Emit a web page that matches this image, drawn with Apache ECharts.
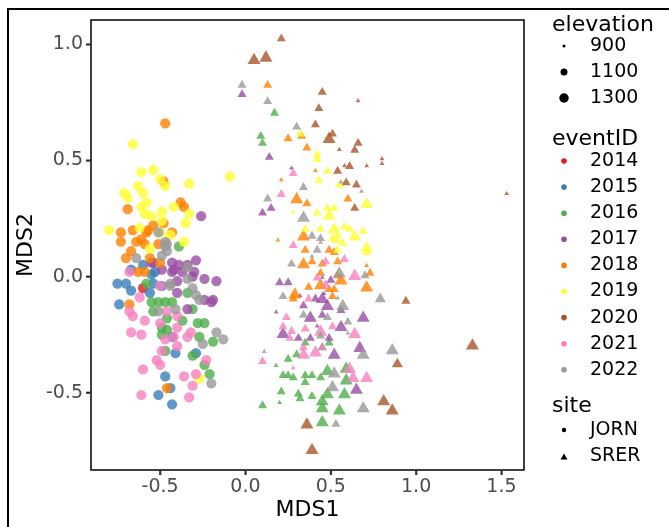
<!DOCTYPE html>
<html>
<head>
<meta charset="utf-8">
<script src="https://cdn.jsdelivr.net/npm/echarts@6/dist/echarts.min.js"></script>
<style>
  html, body { margin: 0; padding: 0; background: #fff; }
  #main { width: 669px; height: 527px; }
</style>
</head>
<body>
<div id="main"></div>
<script>
// NMDS scores, eventID colour, elevation size, site shape
const years = [2014, 2015, 2016, 2017, 2018, 2019, 2020, 2021, 2022];
const yearColors = ['#E41A1C', '#377EB8', '#4DAF4A', '#984EA3', '#FF7F00', '#FFFF33', '#A65628', '#F781BF', '#999999'];
const elevationBreaks = [900, 1100, 1300];
const sites = ['JORN', 'SRER'];
const xTicks = [-0.5, 0, 0.5, 1, 1.5];
const yTicks = [-0.5, 0, 0.5, 1];

const jornElevation = 1380;
// [MDS1, MDS2, eventID]
const jornPoints = [
  [-0.60, -0.05, 2014],
  [-0.60, 0.05, 2015], [-0.67, 0.03, 2015], [-0.53, 0.02, 2015], [-0.55, 0.01, 2015], [-0.75, -0.03, 2015],
  [-0.70, -0.03, 2015], [-0.67, -0.06, 2015], [-0.56, -0.07, 2015], [-0.54, -0.03, 2015], [-0.49, -0.04, 2015],
  [-0.74, -0.12, 2015], [-0.43, -0.26, 2015], [-0.41, -0.33, 2015], [-0.29, -0.33, 2015], [-0.47, -0.43, 2015],
  [-0.44, -0.48, 2015], [-0.51, -0.51, 2015], [-0.43, -0.55, 2015],
  [-0.39, 0.13, 2016], [-0.58, -0.03, 2016], [-0.34, -0.07, 2016], [-0.55, -0.11, 2016], [-0.51, -0.11, 2016],
  [-0.47, -0.11, 2016], [-0.54, -0.15, 2016], [-0.43, -0.11, 2016], [-0.31, -0.14, 2016], [-0.46, -0.18, 2016],
  [-0.37, -0.19, 2016], [-0.28, -0.20, 2016], [-0.24, -0.20, 2016], [-0.49, -0.22, 2016], [-0.46, -0.23, 2016],
  [-0.49, -0.25, 2016], [-0.27, -0.26, 2016], [-0.19, -0.28, 2016], [-0.47, -0.32, 2016], [-0.31, -0.34, 2016],
  [-0.24, -0.38, 2016], [-0.21, -0.42, 2016],
  [-0.26, 0.26, 2017], [-0.55, 0.06, 2017], [-0.49, 0.03, 2017], [-0.54, 0.06, 2017], [-0.43, 0.06, 2017],
  [-0.39, 0.05, 2017], [-0.34, 0.05, 2017], [-0.29, 0.07, 2017], [-0.43, 0.02, 2017], [-0.37, 0.02, 2017],
  [-0.31, 0.00, 2017], [-0.40, -0.02, 2017], [-0.24, -0.01, 2017], [-0.17, -0.02, 2017], [-0.40, -0.07, 2017],
  [-0.24, -0.10, 2017], [-0.19, -0.10, 2017], [-0.20, -0.11, 2017], [-0.34, -0.14, 2017], [-0.42, 0.03, 2017],
  [-0.30, 0.02, 2017],
  [-0.47, 0.66, 2018], [-0.48, 0.41, 2018], [-0.69, 0.29, 2018], [-0.38, 0.32, 2018], [-0.36, 0.30, 2018],
  [-0.73, 0.19, 2018], [-0.66, 0.20, 2018], [-0.58, 0.19, 2018], [-0.54, 0.22, 2018], [-0.57, 0.20, 2018],
  [-0.48, 0.23, 2018], [-0.43, 0.19, 2018], [-0.73, 0.15, 2018], [-0.64, 0.15, 2018], [-0.61, 0.16, 2018],
  [-0.59, 0.14, 2018], [-0.70, 0.08, 2018], [-0.67, 0.11, 2018], [-0.56, 0.08, 2018], [-0.50, 0.06, 2018],
  [-0.63, 0.02, 2018], [-0.59, 0.02, 2018], [-0.68, -0.12, 2018], [-0.46, -0.48, 2018], [-0.51, 0.14, 2018],
  [-0.66, 0.57, 2019], [-0.61, 0.45, 2019], [-0.54, 0.46, 2019], [-0.50, 0.42, 2019], [-0.47, 0.39, 2019],
  [-0.33, 0.40, 2019], [-0.09, 0.43, 2019], [-0.71, 0.36, 2019], [-0.69, 0.34, 2019], [-0.63, 0.39, 2019],
  [-0.60, 0.36, 2019], [-0.58, 0.32, 2019], [-0.61, 0.30, 2019], [-0.59, 0.27, 2019], [-0.55, 0.26, 2019],
  [-0.49, 0.28, 2019], [-0.42, 0.30, 2019], [-0.33, 0.27, 2019], [-0.35, 0.23, 2019], [-0.80, 0.20, 2019],
  [-0.62, 0.21, 2019], [-0.50, 0.19, 2019], [-0.44, 0.18, 2019], [-0.49, 0.24, 2019], [-0.56, 0.12, 2019],
  [-0.36, 0.15, 2019], [-0.27, -0.44, 2019],
  [-0.68, 0.02, 2021], [-0.50, -0.04, 2021], [-0.62, -0.09, 2021], [-0.46, -0.15, 2021], [-0.68, -0.15, 2021],
  [-0.66, -0.17, 2021], [-0.59, -0.19, 2021], [-0.50, -0.20, 2021], [-0.40, -0.17, 2021], [-0.40, -0.22, 2021],
  [-0.67, -0.24, 2021], [-0.61, -0.25, 2021], [-0.32, -0.24, 2021], [-0.34, -0.26, 2021], [-0.47, -0.27, 2021],
  [-0.42, -0.26, 2021], [-0.40, -0.30, 2021], [-0.49, -0.32, 2021], [-0.52, -0.36, 2021], [-0.50, -0.38, 2021],
  [-0.23, -0.36, 2021], [-0.60, -0.40, 2021], [-0.29, -0.42, 2021], [-0.36, -0.43, 2021], [-0.31, -0.47, 2021],
  [-0.61, -0.51, 2021], [-0.33, -0.52, 2021],
  [-0.51, 0.19, 2022], [-0.46, 0.14, 2022], [-0.47, 0.15, 2022], [-0.46, 0.11, 2022], [-0.64, 0.08, 2022],
  [-0.49, 0.09, 2022], [-0.47, 0.13, 2022], [-0.34, 0.04, 2022], [-0.44, -0.03, 2022], [-0.34, -0.01, 2022],
  [-0.31, -0.05, 2022], [-0.29, -0.08, 2022], [-0.27, -0.10, 2022], [-0.51, -0.15, 2022], [-0.41, -0.14, 2022],
  [-0.17, -0.24, 2022], [-0.13, -0.27, 2022], [-0.25, -0.29, 2022], [-0.20, -0.46, 2022], [-0.44, -0.04, 2022]
];

// [MDS1, MDS2, elevation, eventID]
const srerPoints = [
  [0.17, 0.71, 1080, 2016], [0.09, 0.61, 1080, 2016], [0.10, 0.58, 1080, 2016], [0.35, -0.28, 1080, 2016],
  [0.49, -0.28, 1080, 2016], [0.45, -0.30, 1080, 2016], [0.30, -0.33, 1080, 2016], [0.25, -0.35, 1080, 2016],
  [0.18, -0.38, 920, 2016], [0.22, -0.42, 1080, 2016], [0.25, -0.42, 1080, 2016], [0.28, -0.43, 1080, 2016],
  [0.35, -0.42, 1080, 2016], [0.35, -0.45, 1080, 2016], [0.39, -0.42, 1080, 2016], [0.44, -0.43, 1080, 2016],
  [0.48, -0.40, 1320, 2016], [0.59, -0.39, 1320, 2016], [0.59, -0.44, 1320, 2016], [0.58, -0.50, 1320, 2016],
  [0.48, -0.50, 1320, 2016], [0.21, -0.49, 1080, 2016], [0.31, -0.50, 1080, 2016], [0.32, -0.52, 1080, 2016],
  [0.39, -0.51, 1080, 2016], [0.45, -0.53, 1320, 2016], [0.45, -0.56, 1320, 2016], [0.55, -0.57, 1320, 2016],
  [0.20, -0.54, 920, 2016], [0.10, -0.55, 1080, 2016], [0.45, -0.62, 1320, 2016],
  [-0.02, 0.79, 1080, 2017], [0.14, 0.52, 1080, 2017], [0.27, 0.47, 920, 2017], [0.10, 0.28, 1080, 2017],
  [0.15, 0.30, 1080, 2017], [0.45, 0.00, 920, 2017], [0.20, -0.02, 1080, 2017], [0.25, -0.02, 1080, 2017],
  [0.50, -0.01, 1080, 2017], [0.46, -0.07, 920, 2017], [0.32, -0.08, 920, 2017], [0.41, -0.09, 1080, 2017],
  [0.45, -0.09, 1320, 2017], [0.34, -0.12, 1080, 2017], [0.48, -0.12, 1320, 2017], [0.56, -0.14, 1080, 2017],
  [0.18, -0.15, 920, 2017], [0.38, -0.17, 1320, 2017], [0.45, -0.16, 1080, 2017], [0.69, -0.17, 1320, 2017],
  [0.42, -0.21, 920, 2017], [0.56, -0.21, 1320, 2017], [0.22, -0.24, 1320, 2017], [0.31, -0.26, 1080, 2017],
  [0.38, -0.26, 1080, 2017], [0.49, -0.26, 1080, 2017], [0.52, -0.33, 1320, 2017], [0.67, -0.30, 1320, 2017],
  [0.65, -0.48, 1320, 2017],
  [0.13, 0.83, 1080, 2018], [0.25, 0.60, 1080, 2018], [0.33, 0.61, 1080, 2018], [0.36, 0.56, 1080, 2018],
  [0.41, 0.46, 920, 2018], [0.21, 0.42, 920, 2018], [0.30, 0.34, 1320, 2018], [0.36, 0.32, 1080, 2018],
  [0.60, 0.34, 1080, 2018], [0.34, 0.18, 1320, 2018], [0.19, 0.16, 920, 2018], [0.35, 0.12, 1080, 2018],
  [0.49, 0.12, 1080, 2018], [0.52, 0.11, 1080, 2018], [0.34, 0.06, 1320, 2018], [0.39, 0.07, 1080, 2018],
  [0.45, 0.06, 1080, 2018], [0.54, 0.07, 1080, 2018], [0.71, 0.05, 920, 2018], [0.73, 0.02, 1080, 2018],
  [0.56, -0.01, 1320, 2018], [0.54, 0.01, 1080, 2018], [0.44, 0.02, 1080, 2018], [0.37, -0.04, 1080, 2018],
  [0.44, -0.03, 1320, 2018], [0.71, -0.04, 1320, 2018], [0.49, -0.05, 1080, 2018], [0.52, -0.05, 1080, 2018],
  [0.51, -0.08, 1080, 2018], [0.29, -0.07, 1320, 2018], [0.28, -0.09, 1080, 2018],
  [0.32, 0.62, 1080, 2019], [0.42, 0.53, 1080, 2019], [0.42, 0.51, 1080, 2019], [0.48, 0.46, 1080, 2019],
  [0.43, 0.42, 1080, 2019], [0.55, 0.40, 1080, 2019], [0.71, 0.32, 1320, 2019], [0.28, 0.28, 920, 2019],
  [0.42, 0.28, 1080, 2019], [0.48, 0.30, 1080, 2019], [0.52, 0.30, 1080, 2019], [0.49, 0.27, 1320, 2019],
  [0.35, 0.21, 1080, 2019], [0.44, 0.21, 1080, 2019], [0.52, 0.21, 1320, 2019], [0.58, 0.22, 1080, 2019],
  [0.61, 0.21, 1080, 2019], [0.64, 0.18, 1320, 2019], [0.69, 0.20, 1080, 2019], [0.51, 0.17, 1080, 2019],
  [0.54, 0.18, 1080, 2019], [0.53, 0.16, 1080, 2019], [0.57, 0.15, 1080, 2019], [0.71, 0.13, 1320, 2019],
  [0.71, 0.11, 1080, 2019], [0.54, 0.12, 1080, 2019],
  [0.21, 1.03, 1080, 2020], [0.05, 0.94, 1320, 2020], [0.12, 0.95, 1320, 2020], [0.45, 0.80, 1080, 2020],
  [0.66, 0.76, 920, 2020], [0.43, 0.73, 1080, 2020], [0.41, 0.66, 1080, 2020], [0.49, 0.60, 1320, 2020],
  [0.51, 0.62, 1080, 2020], [0.55, 0.55, 920, 2020], [0.64, 0.55, 1080, 2020], [0.66, 0.58, 1080, 2020],
  [0.80, 0.51, 920, 2020], [0.80, 0.49, 920, 2020], [0.54, 0.46, 1080, 2020], [0.58, 0.48, 920, 2020],
  [0.61, 0.48, 1080, 2020], [0.71, 0.48, 920, 2020], [0.59, 0.41, 1080, 2020], [0.65, 0.40, 1080, 2020],
  [0.64, 0.30, 1080, 2020], [1.53, 0.36, 920, 2020], [0.94, -0.10, 1080, 2020], [1.33, -0.29, 1320, 2020],
  [0.89, -0.37, 1200, 2020], [0.81, -0.53, 1320, 2020], [0.86, -0.57, 1320, 2020], [0.36, -0.63, 1320, 2020],
  [0.39, -0.74, 1320, 2020],
  [0.28, 0.45, 1080, 2021], [0.21, 0.36, 1080, 2021], [0.28, 0.14, 1080, 2021], [0.47, 0.07, 1080, 2021],
  [0.58, 0.08, 1080, 2021], [0.64, 0.01, 1320, 2021], [0.42, 0.00, 1080, 2021], [0.47, -0.03, 1080, 2021],
  [0.37, -0.09, 1080, 2021], [0.24, -0.17, 1080, 2021], [0.22, -0.21, 1080, 2021], [0.35, -0.22, 1080, 2021],
  [0.51, -0.21, 1080, 2021], [0.27, -0.23, 1080, 2021], [0.44, -0.23, 1320, 2021], [0.64, -0.24, 1320, 2021],
  [0.26, -0.26, 1080, 2021], [0.10, -0.36, 1080, 2021], [0.28, -0.39, 920, 2021], [0.34, -0.33, 1320, 2021],
  [0.41, -0.32, 1320, 2021], [0.45, -0.30, 1080, 2021], [0.34, -0.30, 1080, 2021], [0.61, -0.39, 1320, 2021],
  [0.63, -0.43, 1320, 2021], [0.71, -0.43, 1320, 2021],
  [-0.02, 0.83, 1080, 2022], [0.13, 0.76, 1080, 2022], [0.30, 0.65, 1080, 2022], [0.34, 0.39, 1080, 2022],
  [0.56, 0.41, 920, 2022], [0.68, 0.37, 920, 2022], [0.13, 0.34, 1080, 2022], [0.34, 0.26, 1320, 2022],
  [0.39, 0.18, 1080, 2022], [0.44, 0.17, 1080, 2022], [0.44, 0.15, 920, 2022], [0.42, 0.12, 1080, 2022],
  [0.39, 0.09, 920, 2022], [0.27, 0.06, 1080, 2022], [0.55, 0.02, 1320, 2022], [0.70, 0.01, 1080, 2022],
  [0.22, -0.08, 1080, 2022], [0.54, -0.09, 920, 2022], [0.79, -0.09, 1200, 2022], [0.57, -0.12, 1320, 2022],
  [0.34, -0.16, 1080, 2022], [0.48, -0.17, 1080, 2022], [0.60, -0.19, 1080, 2022], [0.60, -0.24, 920, 2022],
  [0.44, -0.25, 1080, 2022], [0.11, -0.32, 920, 2022], [0.69, -0.33, 1320, 2022], [0.86, -0.31, 1320, 2022],
  [0.52, -0.41, 1320, 2022], [0.51, -0.47, 1320, 2022], [0.69, -0.56, 1320, 2022], [0.53, -0.63, 1080, 2022]
];

const FONT = '"DejaVu Sans", sans-serif';
const xMin = -0.905, xMax = 1.632, yMin = -0.833, yMax = 1.105;

// point size: area grows linearly with elevation
function diam(elev) {
  return Math.sqrt(9 + (elev - 900) * 0.2);
}
function colorOf(year) {
  return yearColors[years.indexOf(year)];
}

let chart = echarts.init(document.getElementById('main'));

let jornData = jornPoints.map(p => ({
  value: [p[0], p[1], jornElevation, p[2]],
  itemStyle: { color: colorOf(p[2]) }
}));
let srerData = srerPoints.map(p => ({
  value: p,
  itemStyle: { color: colorOf(p[3]) }
}));

// legend drawn by hand (ggplot style)
let legendX = 552, keyX = 564, labelX = 590;
let graphics = [];
function title(text, y) {
  graphics.push({ type: 'text', style: { text: text, x: legendX, y: y, fill: '#000', fontSize: 22, fontFamily: FONT, verticalAlign: 'middle' } });
}
function label(text, y) {
  graphics.push({ type: 'text', style: { text: text, x: labelX, y: y, fill: '#000', fontSize: 19, fontFamily: FONT, verticalAlign: 'middle' } });
}
title('elevation', 25);
elevationBreaks.forEach((e, i) => {
  let y = 46 + i * 26;
  graphics.push({ type: 'circle', shape: { cx: keyX, cy: y, r: diam(e) / 2 }, style: { fill: '#000' } });
  label(String(e), y);
});
title('eventID', 139);
years.forEach((yr, i) => {
  let y = 161 + i * 26.1;
  graphics.push({ type: 'circle', shape: { cx: keyX, cy: y, r: 2.8 }, style: { fill: yearColors[i] } });
  label(String(yr), y);
});
title('site', 406);
sites.forEach((s, i) => {
  let y = 430 + i * 26.5;
  if (s === 'JORN') {
    graphics.push({ type: 'circle', shape: { cx: keyX, cy: y, r: 2.2 }, style: { fill: '#000' } });
  } else {
    graphics.push({ type: 'polygon', shape: { points: [[keyX, y - 3], [keyX + 3.5, y + 3], [keyX - 3.5, y + 3]] }, style: { fill: '#000' } });
  }
  label(s, y);
});
// plot background border
graphics.push({ type: 'rect', shape: { x: 8, y: 9, width: 700, height: 600 }, style: { fill: 'none', stroke: '#000', lineWidth: 2 }, z: -1 });

let option = {
  animation: false,
  backgroundColor: '#fff',
  grid: {
    left: 91, top: 20, width: 433, height: 450,
    show: true, borderColor: '#000', borderWidth: 1.5, backgroundColor: 'transparent'
  },
  xAxis: {
    type: 'value',
    position: 'bottom',
    min: xMin, max: xMax,
    name: 'MDS1',
    nameLocation: 'middle',
    nameGap: 29,
    nameMoveOverlap: false,
    nameTextStyle: { color: '#000', fontSize: 22, fontFamily: FONT },
    axisLine: { show: false, onZero: false },
    splitLine: { show: false },
    axisTick: { show: false },
    axisLabel: { customValues: xTicks, color: '#4D4D4D', fontSize: 19, fontFamily: FONT, margin: 8,
      formatter: v => v.toFixed(1) }
  },
  yAxis: {
    type: 'value',
    position: 'left',
    min: yMin, max: yMax,
    name: 'MDS2',
    nameLocation: 'middle',
    nameGap: 54,
    nameMoveOverlap: false,
    nameTextStyle: { color: '#000', fontSize: 22, fontFamily: FONT },
    axisLine: { show: false, onZero: false },
    splitLine: { show: false },
    axisTick: { show: false },
    axisLabel: { customValues: yTicks, color: '#4D4D4D', fontSize: 19, fontFamily: FONT, margin: 8,
      formatter: v => v.toFixed(1) }
  },
  series: [
    {
      name: 'JORN',
      type: 'scatter',
      symbol: 'circle',
      symbolSize: v => diam(v[2]),
      data: jornData
    },
    {
      name: 'SRER',
      type: 'scatter',
      symbol: 'triangle',
      symbolSize: v => { let d = diam(v[2]); return [d * 1.35, d * 1.17]; },
      data: srerData
    }
  ],
  graphic: graphics
};
chart.setOption(option);

// tick marks placed through the chart's own scales
xTicks.forEach(v => {
  let p = chart.convertToPixel({ gridIndex: 0 }, [v, yMin]);
  graphics.push({ type: 'rect', shape: { x: p[0] - 1, y: p[1], width: 2.2, height: 5 }, style: { fill: '#333' }, z: 100 });
});
yTicks.forEach(v => {
  let p = chart.convertToPixel({ gridIndex: 0 }, [xMin, v]);
  graphics.push({ type: 'rect', shape: { x: p[0] - 5, y: p[1] - 1, width: 5, height: 2.2 }, style: { fill: '#333' }, z: 100 });
});
chart.setOption({ graphic: graphics });
</script>
</body>
</html>
